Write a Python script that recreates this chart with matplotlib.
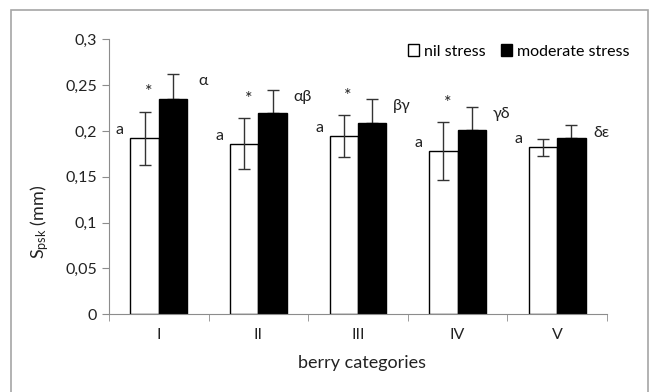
import numpy as np
import matplotlib.pyplot as plt
from matplotlib.patches import Rectangle
from matplotlib.ticker import FuncFormatter, MultipleLocator

plt.rcParams['font.family'] = ['Lato', 'DejaVu Sans']
plt.rcParams['mathtext.default'] = 'regular'

# valori
categories = ['I', 'II', 'III', 'IV', 'V']
nil_stress = [0.192, 0.186, 0.1945, 0.178, 0.182]
nil_err = [0.029, 0.028, 0.023, 0.032, 0.0095]
moderate_stress = [0.2345, 0.220, 0.209, 0.201, 0.192]
moderate_err = [0.028, 0.025, 0.026, 0.025, 0.014]
nil_letters = ['a', 'a', 'a', 'a', 'a']
stars = ['*', '*', '*', '*', '']
greek = ['α', 'αβ', 'βγ', 'γδ', 'δε']

fig = plt.figure(figsize=(6.51, 3.92), dpi=100)
ax = fig.add_axes([109 / 651, 1 - 314.3 / 392, (607 - 109) / 651, (314.3 - 39.3) / 392])

# cornice esterna
fig.patches.append(Rectangle((11 / 651, -0.05), (648 - 11) / 651, 1 - 10 / 392 + 0.05,
                             transform=fig.transFigure, fill=False,
                             edgecolor='#a6a6a6', linewidth=1.2))

x = np.arange(len(categories))
w = 0.285
ax.bar(x - w / 2, nil_stress, w, color='white', edgecolor='black', linewidth=1,
       label='nil stress', zorder=2)
ax.bar(x + w / 2, moderate_stress, w, color='black', edgecolor='black', linewidth=1,
       label='moderate stress', zorder=2)
ax.errorbar(x - w / 2, nil_stress, yerr=nil_err, fmt='none', ecolor='#333333',
            elinewidth=1, capsize=4, capthick=1, zorder=3)
# per le barre nere si vede solo la parte superiore
ax.errorbar(x + w / 2, moderate_stress, yerr=[np.zeros(len(x)), moderate_err], fmt='none',
            ecolor='#333333', elinewidth=1, capsize=4, capthick=1, zorder=1)

for i in range(len(categories)):
    ax.text(x[i] - 0.39, nil_stress[i] + 0.009, nil_letters[i], ha='center', va='center',
            fontsize=11.5, color='#222222')
    if stars[i]:
        ax.text(x[i] - 0.1, nil_stress[i] + nil_err[i] + 0.021, stars[i], ha='center',
                va='center', fontsize=13, color='#222222')
    ax.text(x[i] + 0.44, moderate_stress[i] + moderate_err[i] - 0.008, greek[i],
            ha='center', va='center', fontsize=11.5, color='#222222')

ax.set_xlim(-0.5, len(categories) - 0.5)
ax.set_ylim(0, 0.3)
ax.yaxis.set_major_locator(MultipleLocator(0.05))
ax.yaxis.set_major_formatter(FuncFormatter(
    lambda v, p: '0' if abs(v) < 1e-9 else ('%g' % round(v, 2)).replace('.', ',')))
ax.set_xticks(x)
ax.set_xticklabels(categories)
ax.set_xticks(np.arange(-0.5, len(categories)), minor=True)
ax.tick_params(axis='x', which='major', length=0, pad=10, labelsize=11.5, colors='#222222')
ax.tick_params(axis='x', which='minor', length=5, color='#8c8c8c', direction='out')
ax.tick_params(axis='y', length=5, color='#8c8c8c', labelsize=11.5, labelcolor='#222222')

for s in ['top', 'right']:
    ax.spines[s].set_visible(False)
for s in ['left', 'bottom']:
    ax.spines[s].set_color('#8c8c8c')

fig.text(362 / 651, 1 - 363 / 392, 'berry categories', ha='center', va='center',
         fontsize=13, color='#222222')
fig.text(40 / 651, 1 - 222 / 392, r'S$_{psk}$ (mm)', ha='center', va='center',
         rotation=90, fontsize=13, color='#222222')

leg = ax.legend(loc='upper right', bbox_to_anchor=(636 / 651, 1 - 38 / 392),
                bbox_transform=fig.transFigure, ncol=2, frameon=False, fontsize=11.5,
                handlelength=0.7, handleheight=0.7, handletextpad=0.3, columnspacing=1.0,
                borderaxespad=0)

fig.savefig('out.png', dpi=100)
